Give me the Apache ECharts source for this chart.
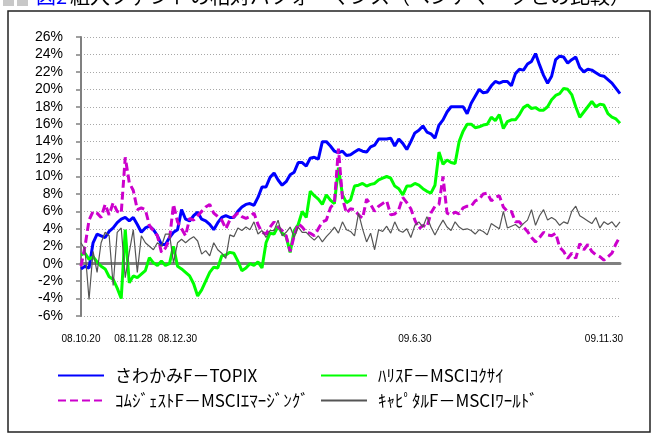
<!DOCTYPE html>
<html><head><meta charset="utf-8">
<script src="https://cdn.jsdelivr.net/npm/echarts@6.0.0/dist/echarts.min.js"></script>
<style>html,body{margin:0;padding:0;background:#fff}#c{width:661px;height:437px}</style>
</head><body><div id="c"></div>
<script>
// ---- chart data ----
const titleText = '組入ファンドの相対パフォーマンス（ベンチマークとの比較）';
const seriesNames = ['さわかみF－TOPIX', 'ﾊﾘｽF－MSCIｺｸｻｲ', 'ｺﾑｼﾞｪｽﾄF－MSCIｴﾏｰｼﾞﾝｸﾞ', 'ｷｬﾋﾟﾀﾙF－MSCIﾜｰﾙﾄﾞ'];
const xTickLabels = ['08.10.20', '08.11.28', '08.12.30', '09.6.30', '09.11.30'];
const xTickIndex = [0, 13, 24, 83, 130];
const yMin = -6, yMax = 26, yStep = 2;

const sawakami = [
 -0.6,-0.3,-0.5,2.4,3.4,3.2,3.0,3.7,4.1,4.7,
 5.1,5.3,4.9,5.3,4.5,3.6,4.1,4.3,3.9,3.2,
 2.2,2.2,3.0,3.6,3.9,6.2,5.1,4.9,5.5,5.9,
 5.1,4.9,4.5,3.9,4.7,5.3,5.5,5.3,5.3,6.0,
 6.5,6.8,6.9,6.7,7.6,8.8,8.8,9.9,10.4,9.6,
 9.0,9.4,10.2,10.5,11.6,11.6,11.2,12.1,12.2,12.0,
 14.0,14.0,13.5,12.9,12.7,12.9,12.4,12.5,12.8,13.1,
 12.9,12.8,13.4,13.6,14.3,14.3,14.3,14.4,13.5,14.3,
 13.8,13.1,14.0,15.0,15.3,15.8,15.1,14.9,14.4,15.9,
 16.5,17.4,18.0,18.0,18.0,18.0,17.2,18.4,19.2,20.0,
 19.6,19.7,20.4,20.9,20.7,20.9,20.9,20.4,21.8,22.3,
 22.2,22.9,23.2,24.1,22.8,21.6,20.7,21.5,23.4,23.8,
 23.7,23.0,23.4,23.7,22.5,22.0,22.3,22.2,21.9,21.6,
 21.5,21.1,20.7,20.1,19.5
];
const harris = [
 1.0,1.2,0.5,0.8,0.2,-0.3,-0.6,-1.5,-1.8,-2.8,
 -4.0,3.9,-2.2,-1.4,-1.6,-1.2,-0.8,0.7,0.1,-0.2,
 0.3,-0.2,0.0,2.0,-0.3,-0.6,-1.0,-1.4,-2.3,-3.7,
 -3.0,-2.0,-1.0,-0.4,-0.5,0.9,1.0,1.3,1.2,0.3,
 -0.8,-0.5,0.0,-0.2,0.2,-0.5,2.4,3.5,3.4,4.3,
 3.5,3.1,1.3,3.8,4.5,6.0,5.3,8.3,7.8,7.4,
 6.8,7.9,7.3,6.9,11.0,7.9,7.0,7.3,8.9,9.0,
 9.2,8.9,9.1,9.2,9.6,9.8,10.0,9.8,8.9,8.6,
 7.9,8.9,8.9,9.2,9.0,8.6,8.3,8.1,9.0,12.8,
 11.4,11.9,11.6,11.5,14.0,15.2,16.0,16.0,15.6,15.7,
 15.9,16.0,16.8,16.4,17.1,15.5,16.3,16.5,16.5,17.1,
 17.9,18.2,17.8,17.9,17.6,17.6,18.0,18.8,19.3,19.5,
 20.1,20.0,19.4,18.0,16.8,17.4,18.0,18.6,18.0,18.3,
 18.2,17.2,16.8,16.6,16.1
];
const comgest = [
 -0.3,2.0,5.0,6.0,5.8,5.3,6.8,5.6,7.0,6.0,
 5.8,12.2,9.3,8.4,6.2,6.4,6.2,4.4,3.8,3.2,
 1.3,1.8,2.8,6.8,4.8,4.0,3.2,5.2,5.0,5.5,
 6.0,6.5,6.8,5.8,5.4,5.0,4.0,5.0,5.4,5.8,
 5.4,5.2,5.4,5.8,4.5,3.6,3.4,4.2,4.8,4.2,
 3.8,3.2,1.4,3.2,4.6,4.2,3.6,3.5,3.2,4.0,
 4.8,5.0,6.4,7.0,13.2,7.5,5.8,6.3,6.2,5.6,
 5.2,7.4,6.8,6.0,6.6,6.9,7.2,5.6,5.7,6.2,
 7.6,7.0,6.3,5.0,4.0,4.4,4.2,5.8,6.6,6.8,
 10.0,5.8,5.6,5.9,5.7,6.4,6.6,6.6,7.2,7.4,
 8.0,8.1,7.2,7.6,7.8,6.5,6.0,6.0,4.8,4.8,
 4.2,3.7,3.0,2.5,3.0,3.6,3.3,3.2,3.5,1.9,
 1.4,0.6,1.2,0.6,2.3,1.6,2.2,1.4,1.0,0.8,
 0.4,0.8,1.2,2.3,3.1
];
const capital = [
 2.4,1.6,-4.1,1.4,-1.0,2.4,3.6,3.2,-2.5,3.6,
 4.1,-1.6,1.3,3.9,-1.0,3.2,2.4,2.0,1.6,2.4,
 2.0,3.4,3.4,0.1,2.4,2.8,2.4,2.8,3.1,2.6,
 1.1,1.5,0.9,2.4,1.6,1.2,0.6,3.3,3.1,4.1,
 3.8,4.2,3.9,4.8,3.4,3.8,3.0,3.8,3.8,5.0,
 3.2,3.6,4.2,3.0,4.2,3.6,3.6,3.1,2.7,3.2,
 2.5,3.1,3.6,4.2,3.5,4.8,3.9,3.7,3.2,5.8,
 4.0,2.5,3.5,1.6,3.9,3.7,4.3,3.5,4.8,3.8,
 3.6,4.0,3.0,4.4,4.8,4.2,5.4,4.2,3.3,4.2,
 5.0,4.2,3.8,4.8,4.2,3.9,4.0,3.8,3.4,3.9,
 3.7,3.3,4.6,4.3,4.0,6.0,4.1,4.3,4.5,4.1,
 4.6,5.0,6.2,4.4,5.5,6.2,5.0,5.3,5.0,4.4,
 4.8,4.6,6.0,6.6,5.5,5.2,4.9,4.6,5.3,4.1,
 4.8,4.5,4.8,4.2,4.8
];
// ---- end data ----

const categories = sawakami.map((_, i) => {
  const k = xTickIndex.indexOf(i);
  return k >= 0 ? xTickLabels[k] : '';
});

const chart = echarts.init(document.getElementById('c'), null, {renderer: 'canvas'});

const legendCommon = {
  orient: 'horizontal', padding: 0, itemGap: 0, itemWidth: 46, itemHeight: 14,
  selectedMode: false,
  itemStyle: {opacity: 0},
  textStyle: {fontSize: 17, color: '#000', fontFamily: '"Noto Sans CJK JP", sans-serif', padding: [0, 0, 0, 6]}
};

const option = {
  animation: false,
  backgroundColor: '#fff',
  graphic: [
    {type: 'rect', shape: {x: 8, y: 11, width: 642, height: 421}, style: {fill: 'none', stroke: '#222', lineWidth: 1.5}, silent: true},
    {type: 'rect', shape: {x: 3, y: -4, width: 11, height: 10}, style: {fill: '#c8c8c8'}, silent: true},
    {type: 'rect', shape: {x: 17, y: -4, width: 11, height: 10}, style: {fill: '#c8c8c8'}, silent: true},
    {type: 'text', left: 36, top: -14, style: {text: '図2', fill: '#0000ff', font: '20px "Noto Sans CJK JP"'}, silent: true},
    {type: 'text', left: 70, top: -14, style: {text: titleText, fill: '#000', font: '20px "Noto Sans CJK JP"'}, silent: true}
  ],
  grid: {left: 81, right: 41, top: 37, bottom: 121, containLabel: false},
  legend: [
    Object.assign({}, legendCommon, {data: [seriesNames[0]], left: 57, top: 367}),
    Object.assign({}, legendCommon, {data: [seriesNames[1]], left: 320, top: 367}),
    Object.assign({}, legendCommon, {data: [seriesNames[2]], left: 57, top: 392}),
    Object.assign({}, legendCommon, {data: [seriesNames[3]], left: 320, top: 392})
  ],
  xAxis: [
    {
      type: 'category', data: categories, boundaryGap: false, position: 'bottom',
      axisLine: {show: false, onZero: false}, axisTick: {show: false}, splitLine: {show: false},
      axisLabel: {interval: 0, margin: 18, fontSize: 10, color: '#000',
        fontFamily: '"Liberation Sans Narrow", "Liberation Sans", sans-serif', hideOverlap: false}
    },
    {
      type: 'category', data: categories, boundaryGap: false, position: 'bottom',
      axisLine: {show: true, onZero: true, lineStyle: {color: '#808080', width: 3}},
      axisTick: {show: false}, axisLabel: {show: false}, splitLine: {show: false}
    }
  ],
  yAxis: {
    type: 'value', min: yMin, max: yMax, interval: yStep,
    axisLine: {show: true, lineStyle: {color: '#808080', width: 2}},
    axisTick: {show: true, inside: false, length: 5, lineStyle: {color: '#808080', width: 1.5}},
    axisLabel: {formatter: '{value}%', fontSize: 14, color: '#000', margin: 18,
      fontFamily: '"Liberation Sans", Arial, sans-serif'},
    splitLine: {show: true, lineStyle: {color: '#a8a8a8', width: 1, type: [1, 2]}}
  },
  series: [
    {name: seriesNames[0], type: 'line', data: sawakami, symbol: 'none', showSymbol: false,
      lineStyle: {color: '#0000ff', width: 3}, itemStyle: {color: '#0000ff'}, z: 3},
    {name: seriesNames[1], type: 'line', data: harris, symbol: 'none', showSymbol: false,
      lineStyle: {color: '#00ff00', width: 3}, itemStyle: {color: '#00ff00'}, z: 4},
    {name: seriesNames[2], type: 'line', data: comgest, symbol: 'none', showSymbol: false,
      lineStyle: {color: '#cc00cc', width: 3, type: [8, 4]}, itemStyle: {color: '#cc00cc'}, z: 5},
    {name: seriesNames[3], type: 'line', data: capital, symbol: 'none', showSymbol: false,
      lineStyle: {color: '#555555', width: 1.2}, itemStyle: {color: '#555555'}, z: 6}
  ]
};
chart.setOption(option);
</script>
</body></html>
